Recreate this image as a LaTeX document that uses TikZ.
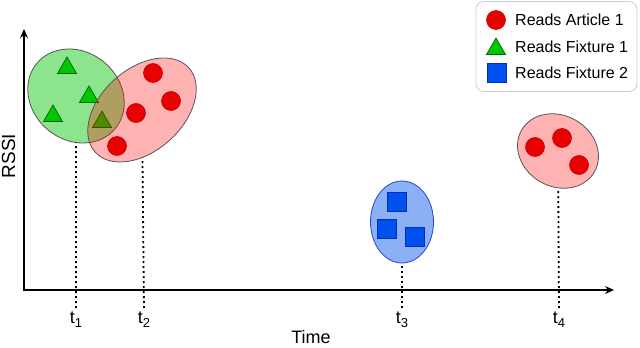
\documentclass[tikz,border=0pt]{standalone}
\usepackage{fontspec}
\setmainfont{Liberation Sans}
\usetikzlibrary{shapes.geometric,arrows.meta}
\definecolor{gfill}{RGB}{140,228,140}
\definecolor{clusb}{RGB}{85,85,85}
\definecolor{bfill}{RGB}{140,176,246}
\definecolor{bclusb}{RGB}{30,70,215}
\definecolor{rdot}{RGB}{232,0,0}
\definecolor{rdotb}{RGB}{190,0,0}
\definecolor{gtri}{RGB}{0,200,0}
\definecolor{gtrib}{RGB}{0,100,0}
\definecolor{bsq}{RGB}{0,82,240}
\definecolor{bsqb}{RGB}{0,45,180}
\definecolor{legb}{RGB}{205,205,205}
\begin{document}
\begin{tikzpicture}[x=1pt,y=-1pt,
  reddot/.style={circle,fill=rdot,draw=rdotb,line width=0.6pt,minimum size=19pt,inner sep=0pt},
  tri/.style={regular polygon,regular polygon sides=3,fill=gtri,draw=gtrib,line width=0.7pt,minimum size=22pt,inner sep=0pt},
  sq/.style={rectangle,fill=bsq,draw=bsqb,line width=0.7pt,minimum size=19pt,inner sep=0pt},
  clus/.style={ellipse,draw=clusb,line width=0.8pt,inner sep=0pt},
  axis/.style={line width=1.2pt,{Stealth[length=9pt,width=8pt]}-{Stealth[length=9pt,width=8pt]}},
  dotline/.style={line width=1.8pt,dash pattern=on 1.8pt off 3.2pt},
  tlab/.style={anchor=north,inner sep=1pt,font=\fontsize{18}{18}\selectfont},
  leglab/.style={anchor=west,inner sep=0pt,font=\fontsize{16}{16}\selectfont},
  axlab/.style={inner sep=0pt,font=\fontsize{19}{19}\selectfont}]
\useasboundingbox (0,0) rectangle (640,348);

% axes
\coordinate (O) at (24,290);
\coordinate (xend) at (614,290);
\coordinate (yend) at (24,29);
\draw[axis] (yend) -- (O) -- (xend);
\node[axlab,rotate=90] (ylab) at (8.5,156) {RSSI};
\node[axlab,font=\fontsize{18}{18}\selectfont] (xlab) at (311,337.5) {Time};

% time labels
\node[tlab] (t1) at (76,311) {t\raisebox{-3.5pt}{\fontsize{13}{13}\selectfont 1}};
\node[tlab] (t2) at (144,311) {t\raisebox{-3.5pt}{\fontsize{13}{13}\selectfont 2}};
\node[tlab] (t3) at (402,311) {t\raisebox{-3.5pt}{\fontsize{13}{13}\selectfont 3}};
\node[tlab] (t4) at (559,311) {t\raisebox{-3.5pt}{\fontsize{13}{13}\selectfont 4}};

% clusters (ellipses)
\node[clus,fill=gfill,rotate=-40,minimum width=102pt,minimum height=88pt] (c1) at (76,96) {};
\node[tri] (g1) at (67,68) {};
\node[tri] (g2) at (89,97) {};
\node[tri] (g3) at (53,116) {};
\node[tri] (g4) at (102,122) {};
\node[clus,fill=red,fill opacity=0.3,rotate=42,minimum width=126pt,minimum height=82pt] (c2) at (142,110) {};
\node[reddot] (r1) at (153,73) {};
\node[reddot] (r2) at (171,101) {};
\node[reddot] (r3) at (136,113) {};
\node[reddot] (r4) at (117,146) {};

\node[clus,draw=bclusb,fill=bfill,minimum width=63pt,minimum height=82pt] (c3) at (402,222) {};
\node[sq] (s1) at (397,202) {};
\node[sq] (s2) at (387,229) {};
\node[sq] (s3) at (415,237) {};

\node[clus,fill=red,fill opacity=0.3,rotate=-30,minimum width=84pt,minimum height=71pt] (c4) at (558,151) {};
\node[reddot] (r5) at (535,147) {};
\node[reddot] (r6) at (562,138) {};
\node[reddot] (r7) at (579,165) {};

% dotted drop lines
\draw[dotline,shorten <=3pt] (t1.north) -- (c1);
\draw[dotline,shorten <=3pt] (t2.north) -- (c2);
\draw[dotline,shorten <=3pt] (t3.north) -- (c3);
\draw[dotline,shorten <=3pt] (t4.north) -- (c4);

% legend
\node[draw=legb,rounded corners=8pt,line width=0.8pt,minimum width=161pt,minimum height=90pt,inner sep=0pt] (leg) at (556.5,46.5) {};
\node[reddot] (lr) at (496,20) {};
\node[tri] (lt) at (496,49) {};
\node[sq] (ls) at (497,73) {};
\node[leglab] (lrt) at (515,20) {Reads Article 1};
\node[leglab] (ltt) at (515,46.5) {Reads Fixture 1};
\node[leglab] (lst) at (515,73) {Reads Fixture 2};
\end{tikzpicture}
\end{document}
